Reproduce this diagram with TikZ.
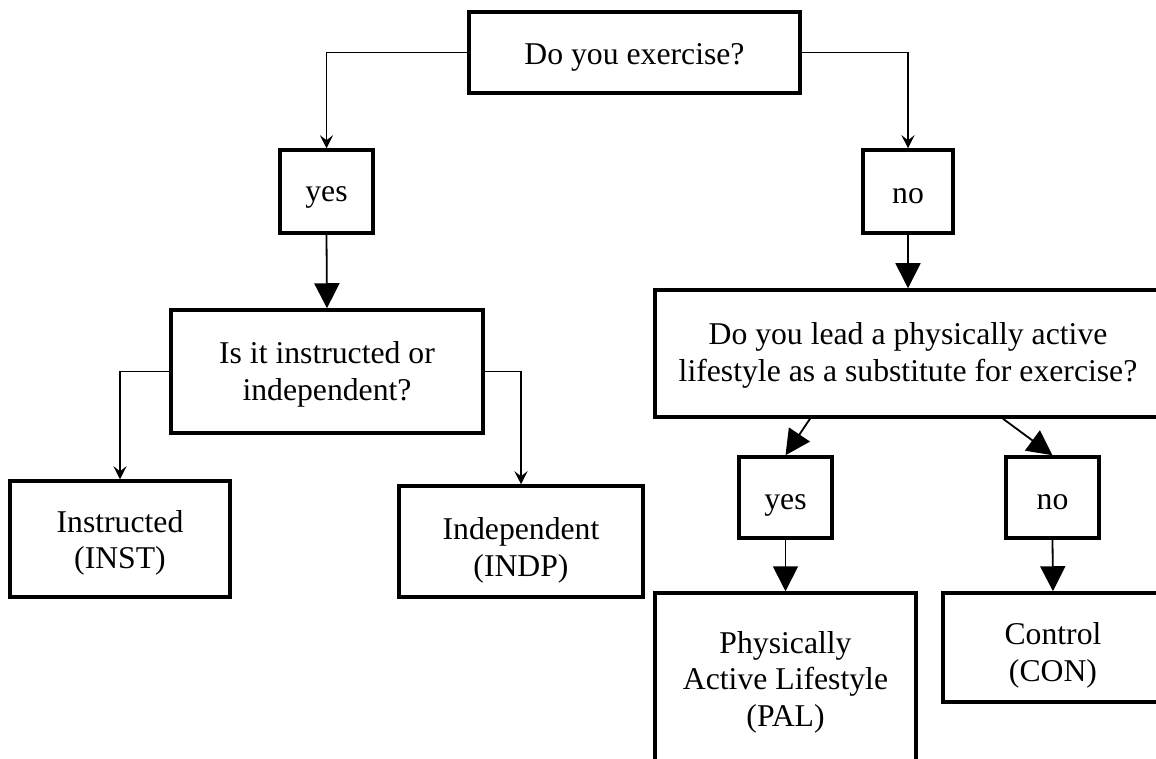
\documentclass[tikz,border=0pt]{standalone}
\usepackage{fontspec}
\setmainfont{Liberation Serif}
\usetikzlibrary{arrows.meta,calc}
\begin{document}
\begin{tikzpicture}[x=1pt,y=-1pt,
  box/.style={draw,line width=3.5pt,inner sep=0pt},
  txt/.style={inner sep=0pt,align=center,font=\fontsize{31.7}{36.5}\selectfont,text=black},
  thinarrow/.style={line width=1.5pt,-{Stealth[length=13pt,width=13pt,inset=5pt]}},
  bigarrow/.style={line width=1.8pt,-{Triangle[length=25pt,width=25pt]}}
]
\useasboundingbox (0,0) rectangle (1156,759);
\clip (0,0) rectangle (1156,759);

% boxes
\node[box,minimum width=331pt,minimum height=81pt] (q1) at (634.5,52.5) {};
\node[box,minimum width=93pt,minimum height=83pt] (yes1) at (326.5,191.5) {};
\node[box,minimum width=90pt,minimum height=83pt] (no1) at (908,191.5) {};
\node[box,minimum width=312pt,minimum height=123pt] (q2) at (327,371.5) {};
\node[box,minimum width=220pt,minimum height=116pt] (inst) at (120,539) {};
\node[box,minimum width=244pt,minimum height=111pt] (indp) at (521,541.5) {};
\node[box,minimum width=506pt,minimum height=127pt] (q3) at (908,353.5) {};
\node[box,minimum width=93pt,minimum height=81pt] (yes2) at (785.5,497.5) {};
\node[box,minimum width=93pt,minimum height=81pt] (no2) at (1052.5,497.5) {};
\node[box,minimum width=261pt,minimum height=174pt] (pal) at (785.5,680) {};
\node[box,minimum width=220pt,minimum height=109pt] (con) at (1053,647.5) {};

% texts
\node[txt] (q1t) at ($(q1)+(0,5)$) {Do you exercise?};
\node[txt] (yes1t) at ($(yes1)+(0,6)$) {yes};
\node[txt] (no1t) at ($(no1)+(0,5)$) {no};
\node[txt] (q2t) at ($(q2)+(0,3)$) {Is it instructed or\\independent?};
\node[txt] (instt) at ($(inst)+(0,4)$) {Instructed\\(INST)};
\node[txt] (indpt) at ($(indp)+(0,9)$) {Independent\\(INDP)};
\node[txt] (q3t) at ($(q3)+(0,2)$) {Do you lead a physically active\\lifestyle as a substitute for exercise?};
\node[txt] (yes2t) at ($(yes2)+(0,8)$) {yes};
\node[txt] (no2t) at ($(no2)+(0,5)$) {no};
\node[txt] (palt) at ($(pal)+(0,2)$) {Physically\\Active Lifestyle\\(PAL)};
\node[txt] (cont) at ($(con)+(0,8)$) {Control\\(CON)};

\coordinate (d1) at ($(q3.south)+(-98,0)$);
\coordinate (d2) at ($(q3.south)+(95,0)$);

% connectors
\draw[thinarrow] (q1.west) -| (yes1.north);
\draw[thinarrow] (q1.east) -| (no1.north);
\draw[bigarrow] (yes1.south) -- (q2.north);
\draw[bigarrow] (no1.south) -- (q3.north);
\draw[thinarrow] (q2.west) -| (inst.north);
\draw[thinarrow] (q2.east) -| (indp.north);
\draw[bigarrow] (d1) -- (yes2.north);
\draw[bigarrow] (d2) -- (no2.north);
\draw[bigarrow] (yes2.south) -- (pal.north);
\draw[bigarrow] (no2.south) -- (con.north);
\end{tikzpicture}
\end{document}
